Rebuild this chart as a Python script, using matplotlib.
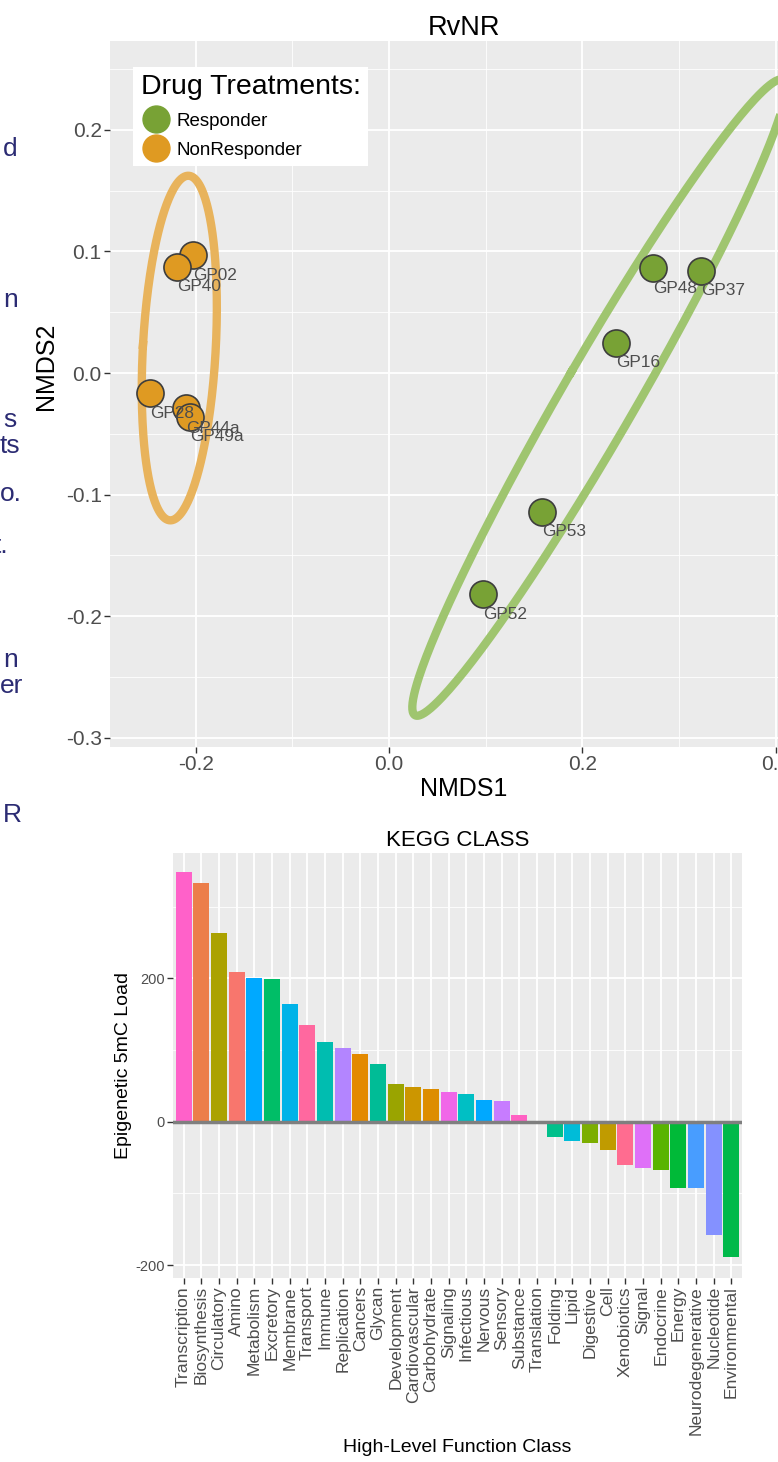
import numpy as np
import matplotlib
matplotlib.use("Agg")
import matplotlib.pyplot as plt
from matplotlib.lines import Line2D

plt.rcParams['font.family'] = ['Liberation Sans', 'DejaVu Sans']
plt.rcParams['axes.unicode_minus'] = False

# NMDS ordination (RvNR)
samples = ['GP48', 'GP37', 'GP16', 'GP53', 'GP52',
           'GP02', 'GP40', 'GP28', 'GP44a', 'GP49a']
nmds1 = [0.2727, 0.3226, 0.2347, 0.1585, 0.0975,
         -0.2024, -0.2189, -0.2472, -0.2099, -0.2058]
nmds2 = [0.0862, 0.0842, 0.0249, -0.1142, -0.1821,
         0.0971, 0.0875, -0.0167, -0.0291, -0.0360]
groups = ['Responder'] * 5 + ['NonResponder'] * 5
group_names = ['Responder', 'NonResponder']

# KEGG class load
kegg_classes = ['Transcription', 'Biosynthesis', 'Circulatory', 'Amino', 'Metabolism',
                'Excretory', 'Membrane', 'Transport', 'Immune', 'Replication', 'Cancers',
                'Glycan', 'Development', 'Cardiovascular', 'Carbohydrate', 'Signaling',
                'Infectious', 'Nervous', 'Sensory', 'Substance', 'Translation', 'Folding',
                'Lipid', 'Digestive', 'Cell', 'Xenobiotics', 'Signal', 'Endocrine',
                'Energy', 'Neurodegenerative', 'Nucleotide', 'Environmental']
kegg_load = [348, 333, 263, 209, 200, 199, 164, 135, 111, 103, 94, 80, 52, 48, 45,
             42, 39, 30, 29, 9, 0, -22, -27, -30, -40, -61, -64, -67, -92, -93,
             -158, -189]

# slide text cut off at the left edge
side_text = ['d', 'n', 's', 'ts', 'o.', 't.', 'n', 'er', 'R']

point_col = {'Responder': '#78a235', 'NonResponder': '#df9a22'}
ring_col = {'Responder': '#9fc56f', 'NonResponder': '#e8b35c'}
bar_cols = ['#FF61C9', '#EC7E4A', '#ABA200', '#F8766D', '#00A9FF', '#00BE67',
            '#00B3E8', '#FF689F', '#00BDB0', '#B385FF', '#E38900', '#00BC96',
            '#9AA400', '#CC9600', '#DD8D00', '#F067E8', '#00BFC4', '#00A8FF',
            '#C77CFF', '#FF61C3', '#7CAE00', '#00C08B', '#00BCD8', '#7CAE00',
            '#C09B00', '#FF6C90', '#DF70F8', '#59B400', '#00BA38', '#489DFF',
            '#8491FF', '#00B94A']

W, H = 778, 1462


def box(l, t, r, b):
    return [l / W, 1 - b / H, (r - l) / W, (b - t) / H]


def cov_ellipse(x, y, radius, n=300):
    x = np.asarray(x)
    y = np.asarray(y)
    vals, vecs = np.linalg.eigh(np.cov(x, y))
    t = np.linspace(0, 2 * np.pi, n)
    circ = np.vstack([np.cos(t), np.sin(t)])
    pts = vecs @ (np.sqrt(vals)[:, None] * radius * circ)
    return x.mean() + pts[0], y.mean() + pts[1]


def gg_panel(ax):
    ax.set_facecolor('#EBEBEB')
    for s in ax.spines.values():
        s.set_visible(False)
    ax.grid(True, which='major', color='white', lw=1.3, zorder=0)
    ax.grid(True, which='minor', color='white', lw=0.6, zorder=0)
    ax.set_axisbelow(True)
    ax.tick_params(which='major', length=4, width=1, color='#333333',
                   labelcolor='#4D4D4D', pad=2)
    ax.tick_params(which='minor', length=0)


fig = plt.figure(figsize=(W / 100, H / 100), dpi=100)

# ---- NMDS plot ----
ax = fig.add_axes(box(110, 41, 818, 747))
gg_panel(ax)
ax.set_xlim(-0.2885, 0.4436)
ax.set_ylim(-0.3077, 0.2732)
ax.set_xticks([-0.2, 0.0, 0.2, 0.4])
ax.set_xticks([-0.1, 0.1, 0.3], minor=True)
ax.set_yticks([-0.3, -0.2, -0.1, 0.0, 0.1, 0.2])
ax.set_yticks([-0.25, -0.15, -0.05, 0.05, 0.15, 0.25], minor=True)
ax.set_xticklabels(['%.1f' % v for v in ax.get_xticks()])
ax.set_yticklabels(['%.1f' % v for v in ax.get_yticks()])
ax.tick_params(labelsize=15)

x_arr = np.array(nmds1)
y_arr = np.array(nmds2)
g_arr = np.array(groups)
for g in group_names:
    m = g_arr == g
    ex, ey = cov_ellipse(x_arr[m], y_arr[m], 2.15)
    ax.plot(ex, ey, color=ring_col[g], lw=6, zorder=2, solid_joinstyle='round')
for g in group_names:
    m = g_arr == g
    ax.scatter(x_arr[m], y_arr[m], s=380, color=point_col[g], edgecolor='#3d3d3d',
               linewidth=1.2, zorder=3)
for name, xv, yv in zip(samples, nmds1, nmds2):
    ax.annotate(name, (xv, yv), xytext=(0, -14.5), textcoords='offset points',
                ha='left', va='center', fontsize=12.4, color='#4D4D4D', zorder=4)

ax.set_title('RvNR', fontsize=19.5, pad=2)
ax.set_xlabel('NMDS1', fontsize=18)
ax.set_ylabel('NMDS2', fontsize=18)
ax.xaxis.set_label_coords(0.5, (747 - 789) / 706)
ax.xaxis.label.set_va('center')
ax.yaxis.set_label_coords((46 - 110) / 708, (747 - 366) / 706)
ax.yaxis.label.set_va('center')

handles = [Line2D([], [], marker='o', ls='', markersize=19.4,
                  markerfacecolor=point_col[g], markeredgecolor=point_col[g])
           for g in group_names]
leg = ax.legend(handles, group_names, title='Drug Treatments:', loc='upper left',
                bbox_to_anchor=(0.0329, 0.9636), fontsize=13.5, title_fontsize=20.5,
                frameon=True, facecolor='white', edgecolor='none', fancybox=False,
                framealpha=1, handlelength=1.6, handletextpad=0.3, labelspacing=0.65,
                borderpad=0.4, borderaxespad=0, alignment='left')
leg.set_zorder(5)

# ---- KEGG bar chart ----
ax2 = fig.add_axes(box(173, 853.3, 742, 1277.7))
gg_panel(ax2)
pos = np.arange(1, len(kegg_classes) + 1)
ax2.bar(pos, kegg_load, width=0.9, color=bar_cols, zorder=2)
ax2.axhline(0, color='#7F7F7F', lw=2.5, zorder=3)
ax2.set_xlim(0.4, len(kegg_classes) + 0.6)
ax2.set_ylim(-217.7, 374.5)
ax2.set_xticks(pos)
ax2.set_xticklabels(kegg_classes, rotation=90, fontsize=12.6)
ax2.set_yticks([-200, 0, 200])
ax2.set_yticks([-100, 100, 300], minor=True)
ax2.tick_params(axis='y', labelsize=10.5)
ax2.set_title('KEGG CLASS', fontsize=16, pad=5)
ax2.set_xlabel('High-Level Function Class', fontsize=14)
ax2.set_ylabel('Epigenetic 5mC Load', fontsize=14)
ax2.xaxis.set_label_coords(0.5, (1277.7 - 1447) / 424.4)
ax2.xaxis.label.set_va('center')
ax2.yaxis.set_label_coords((124 - 173) / 569, 0.5)
ax2.yaxis.label.set_va('center')

# ---- cut-off slide text ----
side_pos = [(3, 149), (3, 300), (3, 420), (0, 446), (0, 494), (-6, 546),
            (3, 660), (0, 686), (3, 815)]
for txt, (px, py) in zip(side_text, side_pos):
    fig.text(px / W, 1 - py / H, txt, fontsize=19, color='#2B2B73',
             ha='left', va='center')

fig.savefig('out.png', dpi=100)
